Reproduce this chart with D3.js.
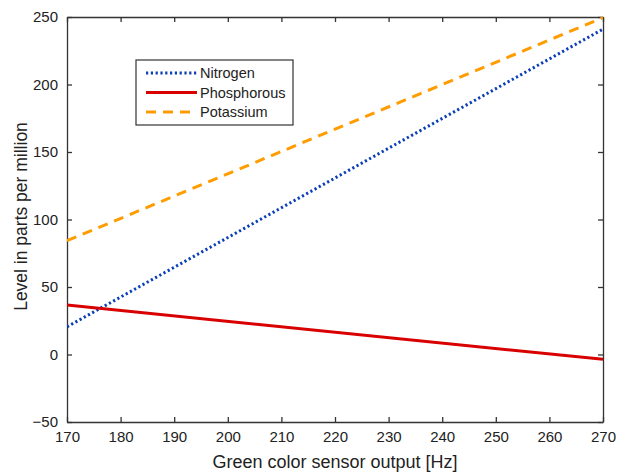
<!DOCTYPE html>
<meta charset="utf-8">
<script src="https://d3js.org/d3.v7.min.js"></script>
<style>
  body { margin: 0; background: #fff; }
  text { font-family: "Liberation Sans", Arial, sans-serif; fill: #222; }
</style>
<body>
<div id="chart"></div>
<script>
  // data
  var xVals = [170, 270];
  var nitrogen = [20.5, 241];
  var phosphorous = [36.7, -3.6];
  var potassium = [84.3, 249.5];
  var seriesNames = ["Nitrogen", "Phosphorous", "Potassium"];
  var xTicks = [170, 180, 190, 200, 210, 220, 230, 240, 250, 260, 270];
  var yTicks = [-50, 0, 50, 100, 150, 200, 250];

  var width = 617, height = 472;
  var m = {left: 67, right: 14, top: 17, bottom: 50};

  var svg = d3.select("#chart").append("svg")
      .attr("width", width)
      .attr("height", height);

  var x = d3.scaleLinear().domain([170, 270]).range([m.left, width - m.right]);
  var y = d3.scaleLinear().domain([-50, 250]).range([height - m.bottom, m.top]);

  var axisColor = "#333";

  // axes with inward ticks, box on all sides
  var gx = svg.append("g")
      .attr("transform", "translate(0," + (height - m.bottom) + ")")
      .call(d3.axisBottom(x).tickValues(xTicks).tickSizeInner(-5).tickSizeOuter(0).tickPadding(9));
  var gxTop = svg.append("g")
      .attr("transform", "translate(0," + m.top + ")")
      .call(d3.axisTop(x).tickValues(xTicks).tickSizeInner(-5).tickSizeOuter(0).tickFormat(""));
  var gy = svg.append("g")
      .attr("transform", "translate(" + m.left + ",0)")
      .call(d3.axisLeft(y).tickValues(yTicks).tickSizeInner(-5).tickSizeOuter(0).tickPadding(9));
  var gyRight = svg.append("g")
      .attr("transform", "translate(" + (width - m.right) + ",0)")
      .call(d3.axisRight(y).tickValues(yTicks).tickSizeInner(-5).tickSizeOuter(0).tickFormat(""));

  [gx, gxTop, gy, gyRight].forEach(function(g) {
    g.select(".domain").attr("stroke", axisColor).attr("stroke-width", 1.3);
    g.selectAll(".tick line").attr("stroke", axisColor).attr("stroke-width", 1.3);
    g.selectAll(".tick text").attr("font-size", 15).attr("fill", "#222")
      .attr("font-family", '"Liberation Sans", Arial, sans-serif');
  });

  // series lines
  var series = [
    {name: seriesNames[0], values: nitrogen, color: "#0a3fb8", dash: "2.2,2.6"},
    {name: seriesNames[1], values: phosphorous, color: "#d90000", dash: null},
    {name: seriesNames[2], values: potassium, color: "#ff9c00", dash: "10,7"}
  ];

  var line = d3.line()
      .x(function(d, i) { return x(xVals[i]); })
      .y(function(d) { return y(d); });

  svg.append("defs").append("clipPath").attr("id", "clip")
    .append("rect")
      .attr("x", m.left).attr("y", m.top - 2)
      .attr("width", width - m.left - m.right)
      .attr("height", height - m.top - m.bottom + 2);

  svg.append("g").attr("clip-path", "url(#clip)")
    .selectAll("path")
    .data(series)
    .join("path")
      .attr("d", function(d) { return line(d.values); })
      .attr("fill", "none")
      .attr("stroke", function(d) { return d.color; })
      .attr("stroke-width", 3)
      .attr("stroke-dasharray", function(d) { return d.dash; });

  // legend
  var lg = svg.append("g");
  lg.append("rect")
      .attr("x", 136).attr("y", 60)
      .attr("width", 157).attr("height", 65)
      .attr("fill", "#fff")
      .attr("stroke", axisColor)
      .attr("stroke-width", 1.2);

  var rows = lg.selectAll("g.row")
    .data(series)
    .join("g")
      .attr("class", "row")
      .attr("transform", function(d, i) { return "translate(0," + (73 + i * 19.5) + ")"; });
  rows.append("line")
      .attr("x1", 146).attr("x2", 197)
      .attr("stroke", function(d) { return d.color; })
      .attr("stroke-width", 3)
      .attr("stroke-dasharray", function(d) { return d.dash; });
  rows.append("text")
      .attr("x", 200).attr("dy", "0.35em")
      .attr("font-size", 14.5)
      .text(function(d) { return d.name; });

  // axis labels
  svg.append("text")
      .attr("x", (m.left + width - m.right) / 2)
      .attr("y", 468)
      .attr("text-anchor", "middle")
      .attr("font-size", 18)
      .text("Green color sensor output [Hz]");
  svg.append("text")
      .attr("transform", "translate(27," + ((m.top + height - m.bottom) / 2 - 3) + ") rotate(-90)")
      .attr("text-anchor", "middle")
      .attr("font-size", 17.5)
      .text("Level in parts per million");
</script>
</body>
